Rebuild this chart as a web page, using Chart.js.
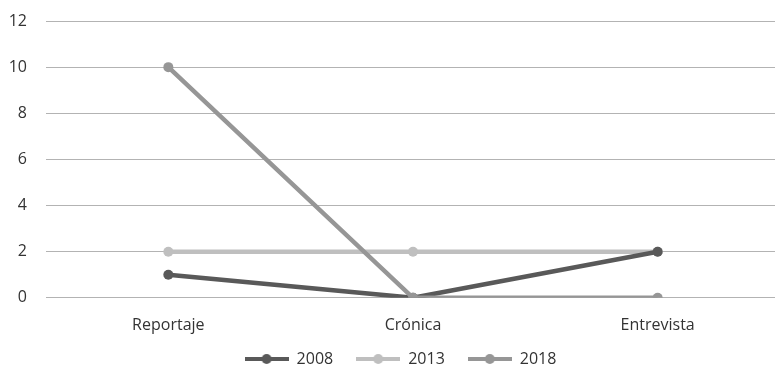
<!DOCTYPE html>
<html>
<head>
<meta charset="utf-8">
<script src="https://cdn.jsdelivr.net/npm/chart.js@4/dist/chart.umd.min.js"></script>
<style>
  html, body { margin: 0; padding: 0; background: #ffffff; overflow: hidden; }
  #wrap { width: 780px; height: 374px; }
</style>
</head>
<body>
<div id="wrap"><canvas id="c"></canvas></div>
<script>
const categories = ['Reportaje', 'Crónica', 'Entrevista'];
const series2008 = [1, 0, 2];
const series2013 = [2, 2, 2];
const series2018 = [10, 0, 0];
const yTicks = [0, 2, 4, 6, 8, 10, 12];

const FONT = '"Open Sans", "Noto Sans", sans-serif';
const TEXT = '#333333';
const SIZE = 16;

// Legend swatch: a short thick line with a dot in the middle
function swatch(color) {
  const cv = document.createElement('canvas');
  cv.width = 44; cv.height = 12;
  const g = cv.getContext('2d');
  g.strokeStyle = color; g.lineWidth = 4;
  g.beginPath(); g.moveTo(0, 6); g.lineTo(44, 6); g.stroke();
  g.fillStyle = color;
  g.beginPath(); g.arc(22, 6, 5, 0, Math.PI * 2); g.fill();
  return cv;
}

function ds(label, data, color, order) {
  return {
    label, data, order,
    borderColor: color,
    backgroundColor: color,
    borderWidth: 4.5,
    pointStyle: 'circle',
    pointRadius: 5,
    pointHoverRadius: 5,
    pointBorderWidth: 0,
    tension: 0
  };
}

// Nudge the legend block into place after the layout pass
const legendNudge = {
  id: 'legendNudge',
  afterLayout(chart) {
    const lg = chart.legend;
    if (!lg) return;
    lg.left += 7; lg.right += 7;
    lg.top -= 25; lg.bottom -= 25;
  }
};

new Chart(document.getElementById('c'), {
  type: 'line',
  data: {
    labels: categories,
    datasets: [
      ds('2008', series2008, '#595959', 1),
      ds('2013', series2013, '#bfbfbf', 2),
      ds('2018', series2018, '#969696', 0)
    ]
  },
  plugins: [legendNudge],
  options: {
    responsive: true,
    maintainAspectRatio: false,
    animation: false,
    layout: { autoPadding: false, padding: { left: 7, right: 0, top: 21, bottom: -28 } },
    plugins: {
      tooltip: { enabled: false },
      legend: {
        position: 'bottom',
        labels: {
          usePointStyle: true,
          pointStyleWidth: 44,
          font: { family: FONT, size: SIZE },
          color: TEXT,
          padding: 23,
          generateLabels(ch) {
            return ch.data.datasets.map((d, i) => ({
              text: d.label,
              pointStyle: swatch(d.borderColor),
              fillStyle: d.borderColor,
              strokeStyle: d.borderColor,
              lineWidth: 0,
              fontColor: TEXT,
              datasetIndex: i,
              hidden: false
            }));
          }
        }
      }
    },
    scales: {
      x: {
        offset: true,
        grid: { display: false, drawTicks: false },
        border: { display: false },
        ticks: { font: { family: FONT, size: SIZE }, color: TEXT, padding: 18 }
      },
      y: {
        min: 0, max: 12,
        afterBuildTicks(axis) { axis.ticks = yTicks.map(v => ({ value: v })); },
        afterFit(axis) { axis.width = 39; axis.paddingTop = 0; axis.paddingBottom = 0; },
        grid: { color: '#b3b3b3', lineWidth: 1, drawTicks: false },
        border: { display: false },
        ticks: { font: { family: FONT, size: SIZE }, color: TEXT, padding: 19 }
      }
    }
  }
});
</script>
</body>
</html>
